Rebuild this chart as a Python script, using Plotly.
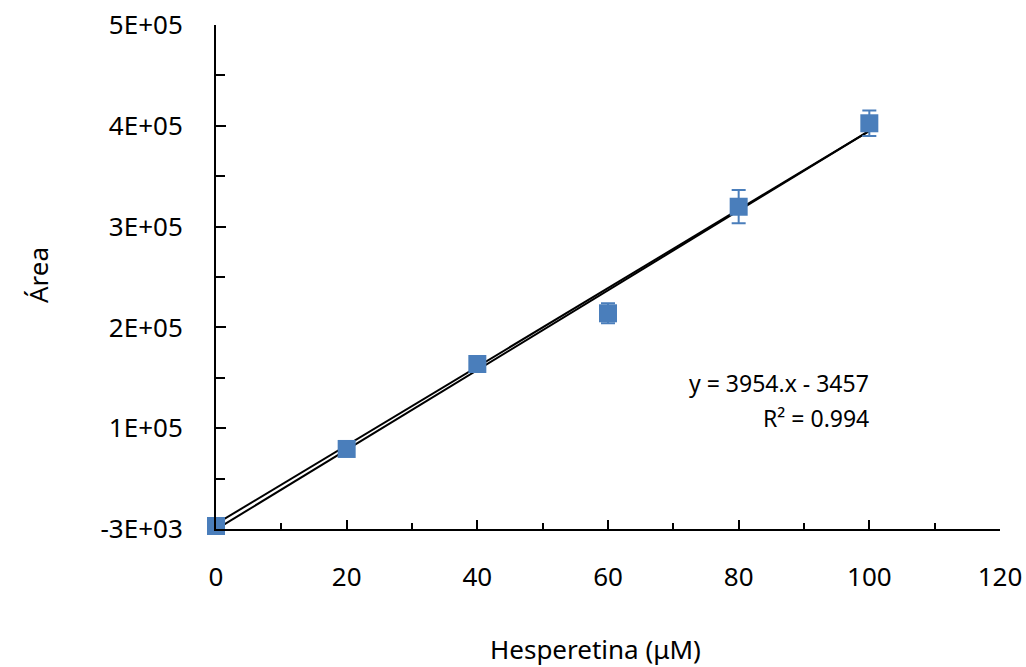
import plotly.graph_objects as go

# ---- data ----
conc_uM = [0, 20, 40, 60, 80, 100]
area = [0, 76400, 160700, 211000, 316700, 399500]
area_err = [1500, 3000, 3500, 10000, 16500, 12700]

fit_x = [0, 100]
fit_a_slope, fit_a_intercept = 3954, -3457
fit_b_slope, fit_b_intercept = 3900, 2000

y_tick_vals = [-3000, 97000, 197000, 297000, 397000, 497000]
y_tick_text = ["-3E+03", "1E+05", "2E+05", "3E+05", "4E+05", "5E+05"]
x_tick_vals = [0, 20, 40, 60, 80, 100, 120]

eq_line1 = "y = 3954.x - 3457"
eq_line2 = "R² = 0.994"

FONT = "Noto Sans"
BLUE = "#4A7EBB"
TICK_SIZE = 26
EQ_SIZE = 23

# plot area in page pixels: x 216..1000, y 25..529
L, R, T, B = 216, 1000, 25, 529
W, H = 1026, 667
PW, PH = R - L, B - T

fig = go.Figure()

fig.add_trace(go.Scatter(
    x=fit_x, y=[fit_b_slope * v + fit_b_intercept for v in fit_x],
    mode="lines", line=dict(color="black", width=2), showlegend=False,
    hoverinfo="skip", cliponaxis=False))
fig.add_trace(go.Scatter(
    x=fit_x, y=[fit_a_slope * v + fit_a_intercept for v in fit_x],
    mode="lines", line=dict(color="black", width=2), showlegend=False,
    hoverinfo="skip", cliponaxis=False))

fig.add_trace(go.Scatter(
    x=conc_uM, y=area, mode="markers",
    marker=dict(symbol="square", size=18, color=BLUE, line=dict(width=0)),
    error_y=dict(type="data", array=area_err, visible=True, color=BLUE,
                 thickness=2, width=7),
    showlegend=False, cliponaxis=False))

fig.update_layout(
    width=W, height=H,
    margin=dict(l=L, r=W - R, t=T, b=H - B, autoexpand=False),
    paper_bgcolor="white", plot_bgcolor="white",
    font=dict(family=FONT, size=TICK_SIZE, color="black"),
    xaxis=dict(
        range=[0, 120], tickvals=x_tick_vals, showgrid=False, zeroline=False,
        showline=True, linecolor="black", linewidth=2, automargin=False,
        ticks="inside", ticklen=9, tickwidth=2, tickcolor="black",
        minor=dict(dtick=10, tick0=0, ticks="inside", ticklen=6,
                   tickwidth=2, tickcolor="black", showgrid=False),
        ticklabelstandoff=24, ticklabeloverflow="allow",
        tickfont=dict(family=FONT, size=TICK_SIZE),
    ),
    yaxis=dict(
        range=[-3000, 497000], tickvals=y_tick_vals, ticktext=y_tick_text,
        showgrid=False, zeroline=False, automargin=False,
        showline=True, linecolor="black", linewidth=2,
        ticks="inside", ticklen=10, tickwidth=2, tickcolor="black",
        minor=dict(dtick=50000, tick0=-3000, ticks="inside", ticklen=9,
                   tickwidth=2, tickcolor="black", showgrid=False),
        ticklabelstandoff=26, ticklabeloverflow="allow",
        tickfont=dict(family=FONT, size=TICK_SIZE),
    ),
    annotations=[
        dict(text="Hesperetina (μM)", xref="paper", yref="paper",
             x=(595 - L) / PW, y=-(649 - B) / PH,
             xanchor="center", yanchor="middle", showarrow=False,
             font=dict(family=FONT, size=TICK_SIZE)),
        dict(text="Área", xref="paper", yref="paper",
             x=-(L - 38) / PW, y=(B - 275) / PH, textangle=-90,
             xanchor="center", yanchor="middle", showarrow=False,
             font=dict(family=FONT, size=TICK_SIZE)),
        dict(text=eq_line1, xref="paper", yref="paper",
             x=(871 - L) / PW, y=(B - 383) / PH,
             xanchor="right", yanchor="middle", showarrow=False,
             font=dict(family=FONT, size=EQ_SIZE)),
        dict(text=eq_line2, xref="paper", yref="paper",
             x=(871 - L) / PW, y=(B - 418) / PH,
             xanchor="right", yanchor="middle", showarrow=False,
             font=dict(family=FONT, size=EQ_SIZE)),
    ],
)

fig.write_html(
    "out.html",
    config={"displayModeBar": False},
    post_script="document.body.style.margin='0px';"
                "document.body.style.overflow='hidden';",
)
